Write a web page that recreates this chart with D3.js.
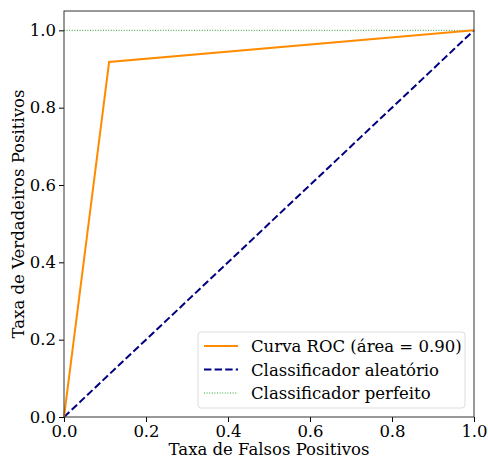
<!DOCTYPE html>
<html>
<head>
<meta charset="utf-8">
<script src="https://cdn.jsdelivr.net/npm/d3@7"></script>
<style>
body { margin: 0; background: #fff; }
text { font-family: "DejaVu Serif", serif; }
</style>
</head>
<body>
<div id="chart"></div>
<script>
var width = 488
var height = 463
var margin = { top: 11, right: 15, bottom: 46, left: 64 }

// dados
var fpr = [0, 0.11, 1]
var tpr = [0, 0.918, 1]
var randomX = [0, 1]
var randomY = [0, 1]
var perfectX = [0, 1]
var perfectY = [1, 1]
var ticks = [0, 0.2, 0.4, 0.6, 0.8, 1.0]
var legendLabels = ['Curva ROC (área = 0.90)', 'Classificador aleatório', 'Classificador perfeito']

var svg = d3.select('#chart').append('svg')
    .attr('width', width)
    .attr('height', height)

var x = d3.scaleLinear().domain([0, 1]).range([margin.left, width - margin.right + 1])
var y = d3.scaleLinear().domain([0, 1.05]).range([height - margin.bottom, margin.top])

var line = d3.line().x(d => x(d[0])).y(d => y(d[1]))

// linhas
svg.append('path')
    .datum(perfectX.map((v, i) => [v, perfectY[i]]))
    .attr('d', line)
    .attr('fill', 'none')
    .attr('stroke', '#2ca02c')
    .attr('stroke-width', 1)
    .attr('stroke-dasharray', '1,1.6')

svg.append('path')
    .datum(randomX.map((v, i) => [v, randomY[i]]))
    .attr('d', line)
    .attr('fill', 'none')
    .attr('stroke', 'navy')
    .attr('stroke-width', 2)
    .attr('stroke-dasharray', '7.4,3.2')

svg.append('path')
    .datum(fpr.map((v, i) => [v, tpr[i]]))
    .attr('d', line)
    .attr('fill', 'none')
    .attr('stroke', 'darkorange')
    .attr('stroke-width', 2)

// eixos
var xAxis = svg.append('g')
    .attr('transform', 'translate(0,' + y(0) + ')')
    .call(d3.axisBottom(x).tickValues(ticks).tickFormat(d3.format('.1f')).tickSize(5).tickPadding(3))
var yAxis = svg.append('g')
    .attr('transform', 'translate(' + x(0) + ',0)')
    .call(d3.axisLeft(y).tickValues(ticks).tickFormat(d3.format('.1f')).tickSize(5).tickPadding(3))

svg.selectAll('.tick text')
    .style('font-family', '"DejaVu Serif", serif')
    .style('font-size', '16.5px')
    .attr('fill', '#000')
svg.selectAll('.domain').remove()
svg.selectAll('.tick line').attr('stroke', '#000').attr('stroke-width', 1)

// moldura
svg.append('rect')
    .attr('x', x(0))
    .attr('y', y(1.05))
    .attr('width', x(1) - x(0))
    .attr('height', y(0) - y(1.05))
    .attr('fill', 'none')
    .attr('stroke', '#333')
    .attr('stroke-width', 1)

svg.append('text')
    .attr('x', (x(0) + x(1)) / 2)
    .attr('y', 483 - 20)
    .attr('text-anchor', 'middle')
    .style('font-size', '16.5px')
    .text('Taxa de Falsos Positivos')
    .attr('y', 455)

svg.append('text')
    .attr('transform', 'translate(24,' + (y(0) + y(1.05)) / 2 + ') rotate(-90)')
    .attr('text-anchor', 'middle')
    .style('font-size', '16.5px')
    .text('Taxa de Verdadeiros Positivos')

// legenda
var legend = svg.append('g').attr('transform', 'translate(198,332)')
legend.append('rect')
    .attr('width', 267)
    .attr('height', 76)
    .attr('rx', 3)
    .attr('fill', 'rgba(255,255,255,0.8)')
    .attr('stroke', '#ddd')

var legendStyles = [
    { color: 'darkorange', width: 2, dash: null },
    { color: 'navy', width: 2, dash: '7.4,3.2' },
    { color: '#2ca02c', width: 1, dash: '1,1.6' }
]

legendLabels.forEach(function (label, i) {
    var ly = 14 + i * 23.5
    legend.append('line')
        .attr('x1', 6).attr('x2', 40)
        .attr('y1', ly).attr('y2', ly)
        .attr('stroke', legendStyles[i].color)
        .attr('stroke-width', legendStyles[i].width)
        .attr('stroke-dasharray', legendStyles[i].dash)
    legend.append('text')
        .attr('x', 53)
        .attr('y', ly + 6)
        .style('font-size', '16.5px')
        .text(label)
})
</script>
</body>
</html>
